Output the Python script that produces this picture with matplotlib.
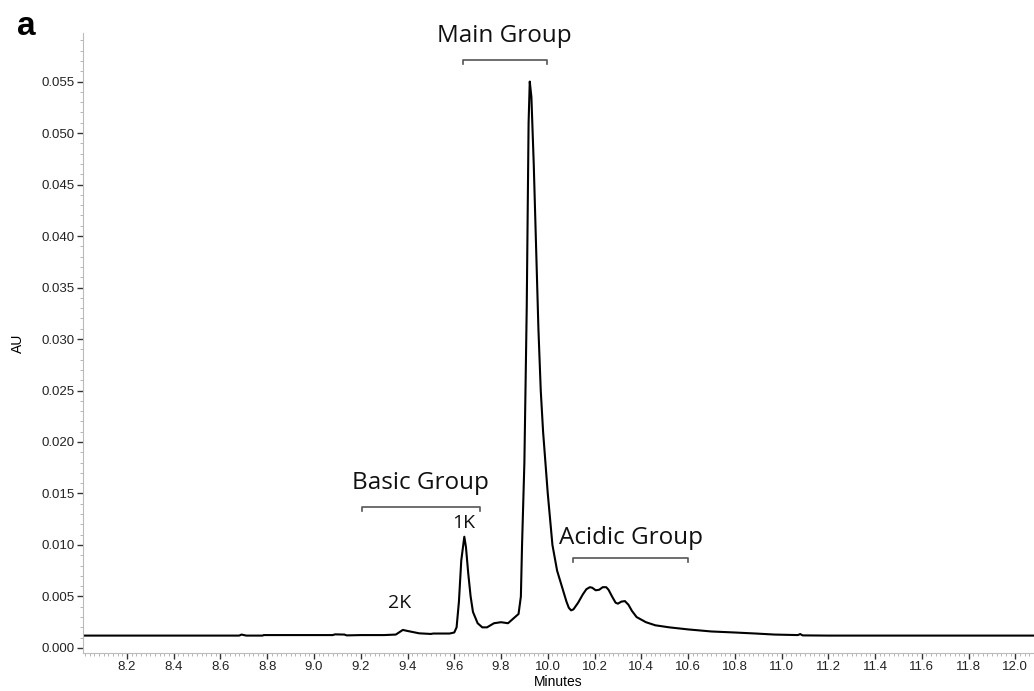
import numpy as np
import matplotlib.pyplot as plt
from matplotlib.ticker import MultipleLocator

# electropherogram trace (minutes, AU)
minutes = [8.00, 8.68, 8.69, 8.70, 8.71, 8.78, 8.785, 9.08, 9.09, 9.13, 9.14, 9.20, 9.30,
           9.35, 9.37, 9.38, 9.40, 9.45, 9.50, 9.51, 9.58, 9.60, 9.61, 9.62, 9.63, 9.643,
           9.65, 9.66, 9.67, 9.68, 9.70, 9.72, 9.74, 9.77, 9.80, 9.83, 9.86, 9.875,
           9.885, 9.89, 9.90, 9.91, 9.918, 9.923, 9.93, 9.94, 9.95, 9.96, 9.97, 9.98,
           10.00, 10.02, 10.04, 10.06, 10.08, 10.09, 10.10, 10.11, 10.13, 10.15, 10.165,
           10.18, 10.19, 10.205, 10.22, 10.235, 10.25, 10.26, 10.275, 10.29, 10.30, 10.315,
           10.33, 10.345, 10.36, 10.38, 10.42, 10.46, 10.52, 10.60, 10.70,
           10.80, 10.89, 10.97, 11.07, 11.08, 11.09, 11.20, 12.10]
au = [0.00120, 0.00120, 0.00130, 0.00125, 0.00120, 0.00120, 0.00125, 0.00125, 0.00132, 0.00130,
      0.00122, 0.00125, 0.00125,
      0.00130, 0.00160, 0.00175, 0.00165, 0.00142, 0.00136, 0.00140, 0.00140, 0.00150, 0.00200,
      0.00450, 0.00850, 0.01080,
      0.00980, 0.00720, 0.00500, 0.00350, 0.00240, 0.00200, 0.00200, 0.00240, 0.00250, 0.00240,
      0.00300, 0.00330,
      0.00500, 0.01000, 0.01800, 0.03300, 0.05100, 0.05500, 0.05350, 0.04700, 0.03900, 0.03100,
      0.02500, 0.02100,
      0.01500, 0.01000, 0.00750, 0.00600, 0.00450, 0.00390, 0.00365, 0.00375, 0.00440, 0.00520,
      0.00570,
      0.00590, 0.00585, 0.00560, 0.00565, 0.00590, 0.00590, 0.00565, 0.00500, 0.00440, 0.00430,
      0.00450,
      0.00455, 0.00420, 0.00360, 0.00300, 0.00250, 0.00220, 0.00200, 0.00180, 0.00160,
      0.00150, 0.00140, 0.00130, 0.00125, 0.00135, 0.00122, 0.00120, 0.00120]

# group brackets: label, start, end, bracket height, label height
groups = ["Main Group", "Basic Group", "Acidic Group"]
grp_start = [9.636, 9.205, 10.11]
grp_end = [9.995, 9.709, 10.60]
grp_y = [0.0571, 0.0137, 0.0087]
grp_text_y = [0.0594, 0.0160, 0.0107]

peaks = ["1K", "2K"]
peak_x = [9.639, 9.365]
peak_y = [0.0121, 0.0044]

fig = plt.figure(figsize=(10.34, 6.91), dpi=100)
ax = fig.add_axes([0.0803, 0.055, 0.9197, 0.897])

ax.plot(minutes, au, color='black', lw=1.5)

ax.set_xlim(8.012, 12.08)
ax.set_ylim(-0.00049, 0.0597)

ax.xaxis.set_minor_locator(MultipleLocator(0.02))
ax.yaxis.set_minor_locator(MultipleLocator(0.001))
ax.set_xticks(np.arange(8.2, 12.01, 0.2))
ax.set_xticklabels(['%.1f' % v for v in np.arange(8.2, 12.01, 0.2)])
ax.set_yticks(np.arange(0, 0.0551, 0.005))
ax.set_yticklabels(['%.3f' % v for v in np.arange(0, 0.0551, 0.005)])

for s in ['top', 'right']:
    ax.spines[s].set_visible(False)
for s in ['left', 'bottom']:
    ax.spines[s].set_color('#bbbbbb')
    ax.spines[s].set_linewidth(0.8)

ax.tick_params(which='major', direction='out', length=4, width=1.0, color='#333333',
               labelsize=9.5, labelcolor='#222222', pad=2)
ax.tick_params(which='minor', direction='out', length=2, width=0.6, color='#aaaaaa')
for lab in ax.get_xticklabels() + ax.get_yticklabels():
    lab.set_family(['Liberation Sans', 'DejaVu Sans'])

ax.set_xlabel('Minutes', fontsize=10, family=['Liberation Sans'], labelpad=1.5)
ax.set_ylabel('AU', fontsize=10, family=['Liberation Sans'], labelpad=12)

for name, x0, x1, y, ty in zip(groups, grp_start, grp_end, grp_y, grp_text_y):
    ax.plot([x0, x0, x1, x1], [y - 0.0004, y, y, y - 0.0004], color='#555555', lw=1.2,
            clip_on=False)
    ax.text((x0 + x1) / 2, ty, name, ha='center', va='center', fontsize=17.5,
            family=['Open Sans'], color='#111111', clip_on=False)

for name, x, y in zip(peaks, peak_x, peak_y):
    ax.text(x, y, name, ha='center', va='center', fontsize=14, family=['Open Sans'],
            color='#111111')

fig.text(0.016, 0.962, 'a', fontsize=24, fontweight='bold', family=['Liberation Sans'],
         ha='left', va='center')

fig.savefig('out.png', dpi=100)
